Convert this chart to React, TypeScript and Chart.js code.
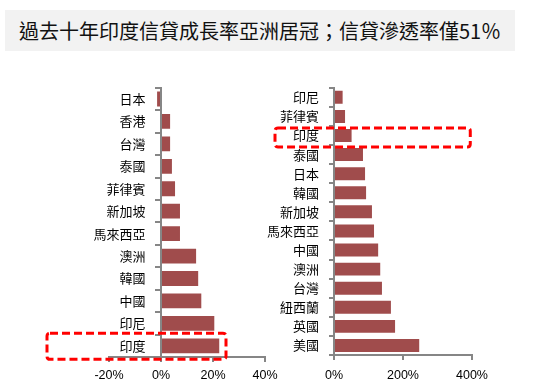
import React, { useEffect, useRef } from 'react';
import { Chart, registerables } from 'chart.js';

Chart.register(...registerables);

const titleText = '過去十年印度信貸成長率亞洲居冠；信貸滲透率僅51％';

const growthCategories = ['日本', '香港', '台灣', '泰國', '菲律賓', '新加坡', '馬來西亞', '澳洲', '韓國', '中國', '印尼', '印度'];
const growthValues = [-1.5, 3.5, 3.5, 4.2, 5.4, 7.3, 7.3, 13.5, 14.3, 15.5, 20.5, 22.4];
const growthTicks = [-20, 0, 20, 40];

const penetrationCategories = ['印尼', '菲律賓', '印度', '泰國', '日本', '韓國', '新加坡', '馬來西亞', '中國', '澳洲', '台灣', '紐西蘭', '英國', '美國'];
const penetrationValues = [25, 32, 51, 84, 90, 93, 110, 116, 128, 134, 139, 165, 177, 247];
const penetrationTicks = [0, 200, 400];

const highlightLabel = '印度';

const BAR_COLOR = '#a04c4c';
const AXIS_COLOR = '#868686';

const highlightPlugin = {
  id: 'highlightBox',
  afterDraw(chart: any, _args: any, opts: any) {
    if (!opts || !opts.label) return;
    const y = chart.scales.y;
    const x = chart.scales.x;
    const idx = chart.data.labels.indexOf(opts.label);
    if (idx < 0) return;
    const cy = y.getPixelForValue(idx);
    const x1 = chart.chartArea.left + opts.leftOffset;
    const x2 = x.getPixelForValue(opts.rightValue);
    const ctx = chart.ctx;
    ctx.save();
    ctx.strokeStyle = '#ff0000';
    ctx.lineWidth = 3;
    ctx.setLineDash([8, 4]);
    ctx.lineJoin = 'round';
    ctx.beginPath();
    const r = 3;
    const top = cy + opts.top;
    const bottom = cy + opts.bottom;
    ctx.moveTo(x1 + r, top);
    ctx.lineTo(x2 - r, top);
    ctx.quadraticCurveTo(x2, top, x2, top + r);
    ctx.lineTo(x2, bottom - r);
    ctx.quadraticCurveTo(x2, bottom, x2 - r, bottom);
    ctx.lineTo(x1 + r, bottom);
    ctx.quadraticCurveTo(x1, bottom, x1, bottom - r);
    ctx.lineTo(x1, top + r);
    ctx.quadraticCurveTo(x1, top, x1 + r, top);
    ctx.closePath();
    ctx.stroke();
    ctx.restore();
  },
};

type PanelProps = {
  labels: string[];
  values: number[];
  min: number;
  max: number;
  tickValues: number[];
  left: number;
  top: number;
  width: number;
  height: number;
  padLeft: number;
  padRight: number;
  padTop: number;
  yWidth: number;
  xHeight: number;
  xPad: number;
  barPct: number;
  zeroAxis: boolean;
  highlight: any;
};

function BarPanel(p: PanelProps) {
  const ref = useRef<HTMLCanvasElement | null>(null);
  useEffect(() => {
    if (!ref.current) return;
    const catFont = { family: '"Noto Sans CJK TC", "Noto Sans", sans-serif', size: 13 };
    const numFont = { family: '"Liberation Sans", Arial, sans-serif', size: 12.5 };
    const chart = new Chart(ref.current, {
      type: 'bar',
      data: {
        labels: p.labels,
        datasets: [
          {
            data: p.values,
            backgroundColor: BAR_COLOR,
            borderWidth: 0,
            barPercentage: p.barPct,
            categoryPercentage: 1,
          },
        ],
      },
      plugins: [highlightPlugin],
      options: {
        indexAxis: 'y',
        animation: false,
        responsive: false,
        maintainAspectRatio: false,
        layout: { padding: { left: p.padLeft, right: p.padRight, top: p.padTop, bottom: 0 } },
        plugins: {
          legend: { display: false },
          tooltip: { enabled: false },
          highlightBox: p.highlight,
        } as any,
        scales: {
          x: {
            type: 'linear',
            min: p.min,
            max: p.max,
            afterBuildTicks: (s: any) => {
              s.ticks = p.tickValues.map((v) => ({ value: v }));
            },
            afterFit: (s: any) => {
              s.height = p.xHeight;
            },
            grid: { drawOnChartArea: false, drawTicks: true, tickLength: 5, color: AXIS_COLOR, lineWidth: 2 },
            border: { color: AXIS_COLOR, width: 2 },
            ticks: { font: numFont, color: '#000', padding: p.xPad, maxRotation: 0, callback: (v: any) => v + '%' },
          },
          y: {
            type: 'category',
            position: p.zeroAxis ? ({ x: 0 } as any) : 'left',
            afterFit: (s: any) => {
              s.width = p.yWidth;
            },
            grid: { drawOnChartArea: false, drawTicks: true, tickLength: 5, color: AXIS_COLOR, lineWidth: 2, offset: true },
            border: { color: AXIS_COLOR, width: 2 },
            ticks: {
              font: catFont,
              color: '#000',
              padding: 10,
              autoSkip: false,
              callback: function (this: any, v: any) {
                const lab = this.getLabelForValue(v);
                return p.zeroAxis ? lab + '\u2003\u2009' : lab;
              },
            },
          },
        },
      } as any,
    });
    return () => chart.destroy();
  }, []);
  return (
    <canvas
      ref={ref}
      width={p.width}
      height={p.height}
      style={{ position: 'absolute', left: p.left, top: p.top, width: p.width, height: p.height, display: 'block' }}
    />
  );
}

export default function App() {
  return (
    <div style={{ position: 'fixed', left: 0, top: 0, width: 555, height: 392, background: '#fff', overflow: 'hidden' }}>
      <div
        style={{
          position: 'absolute',
          left: 5,
          top: 10,
          width: 510,
          height: 41,
          background: '#f2f2f2',
          fontFamily: '"Noto Sans CJK TC", sans-serif',
          fontSize: 20,
          lineHeight: '41px',
          textAlign: 'center',
          color: '#111',
          whiteSpace: 'nowrap',
        }}
      >
        {titleText}
      </div>
      <BarPanel
        labels={growthCategories}
        values={growthValues}
        min={-20}
        max={40}
        tickValues={growthTicks}
        left={0}
        top={70}
        width={285}
        height={322}
        padLeft={109}
        padRight={20}
        padTop={12}
        yWidth={0}
        xHeight={35}
        xPad={6}
        barPct={0.66}
        zeroAxis={true}
        highlight={{ label: highlightLabel, leftOffset: -62, rightValue: 25, top: -12.5, bottom: 13.5 }}
      />
      <BarPanel
        labels={penetrationCategories}
        values={penetrationValues}
        min={0}
        max={400}
        tickValues={penetrationTicks}
        left={255}
        top={70}
        width={300}
        height={322}
        padLeft={0}
        padRight={83}
        padTop={17}
        yWidth={79}
        xHeight={37}
        xPad={8}
        barPct={0.68}
        zeroAxis={false}
        highlight={{ label: highlightLabel, leftOffset: -59, rightValue: 395, top: -7.5, bottom: 11.5 }}
      />
    </div>
  );
}
